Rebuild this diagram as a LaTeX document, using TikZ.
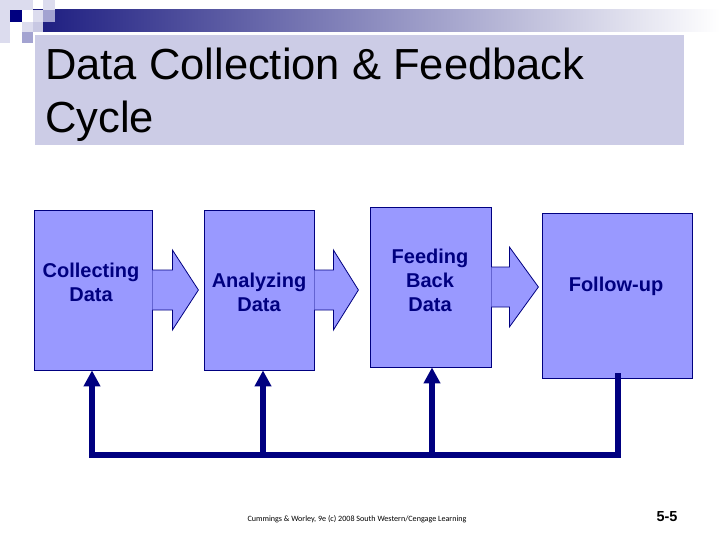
\documentclass[tikz,border=0pt]{standalone}
\usepackage{fontspec}
\setmainfont{Liberation Sans}
\newfontfamily\carlito{Carlito}
\usetikzlibrary{calc,arrows.meta}
\definecolor{boxfill}{HTML}{9999FF}
\definecolor{navyc}{HTML}{000080}
\definecolor{titlebg}{HTML}{CCCCE6}
\definecolor{sqlight}{HTML}{DCDCEE}
\definecolor{sqmed}{HTML}{A3A3D1}
\definecolor{barleft}{HTML}{1C1C80}
\tikzset{
  box/.style={draw=navyc, line width=0.8pt, fill=boxfill, inner sep=0pt},
  boxtext/.style={text=navyc, font=\bfseries\fontsize{20}{24}\selectfont, align=center},
  arrowfill/.style={fill=boxfill},
  arrowline/.style={draw=navyc, line width=0.8pt, line join=miter},
  fb/.style={draw=navyc, line width=6pt, line join=miter},
  fbtip/.style={-{Triangle[width=16pt,length=16pt]}},
}
\newcommand{\blkarrow}[3]{%
  \fill[arrowfill] ($(#1)+(0,-20)$) -- ++(#2,0) -- ++(0,-20) -- ++(#3,40) -- ++(-#3,40) -- ++(0,-20) -- ++(-#2,0) -- cycle;
  \draw[arrowline] ($(#1)+(0,-20)$) -- ++(#2,0) -- ++(0,-20) -- ++(#3,40) -- ++(-#3,40) -- ++(0,-20) -- ++(-#2,0);
}
\begin{document}
\begin{tikzpicture}[x=1pt,y=-1pt]
\useasboundingbox (0,0) rectangle (720,540);
\fill[white] (0,0) rectangle (720,540);
% top decoration
\shade[left color=barleft, right color=white] (33,10) rectangle (720,32);
\fill[sqlight] (0,0) rectangle (33,10);
\fill[sqlight] (0,10) rectangle (10,43);
\fill[sqlight] (43,0) rectangle (55,10);
\fill[sqlight] (33,10) rectangle (43,22);
\fill[sqmed] (43,10) rectangle (55,22);
\fill[sqlight] (22,22) rectangle (33,32);
\fill[sqmed!60!white] (33,22) rectangle (43,32);
\fill[sqmed] (22,32) rectangle (33,43);
\fill[navyc] (10,10) rectangle (22,22);
% title
\fill[titlebg] (35,35) rectangle (684,145);
\node[anchor=base west, inner sep=0pt, font=\fontsize{43.5}{48}\selectfont] (title1) at (45,80) {Data Collection \& Feedback};
\node[anchor=base west, inner sep=0pt, font=\fontsize{43.5}{48}\selectfont] (title2) at (45,133) {Cycle};
% boxes
\node[box, minimum width=118pt, minimum height=160pt] (b1) at (93,290) {};
\node[box, minimum width=110pt, minimum height=160pt] (b2) at (259,290) {};
\node[box, minimum width=121pt, minimum height=160pt] (b3) at (430.5,287) {};
\node[box, minimum width=150pt, minimum height=165pt] (b4) at (617,295.5) {};
\node[boxtext] (t1) at (91,282) {Collecting\\Data};
\node[boxtext] (t2) at (259,292) {Analyzing\\Data};
\node[boxtext] (t3) at (430,280) {Feeding\\Back\\Data};
\node[boxtext] (t4) at (616,286) {Follow-up};
% block arrows
\blkarrow{b1.east}{20}{26}
\blkarrow{b2.east}{19}{25}
\blkarrow{b3.east}{18}{29}
% feedback
\coordinate (f1) at (92,455);
\coordinate (f2) at (263,455);
\coordinate (f3) at (432,455);
\coordinate (f4) at (618,455);
\coordinate (e4) at (618,373);
\draw[fb, fbtip] (e4) -- (f4) -- (f1) -- (f1 |- b1.south);
\draw[fb, fbtip] (f2) -- (f2 |- b2.south);
\draw[fb, fbtip] (f3) -- (f3 |- b3.south);
% footer
\node[font=\carlito\fontsize{8.1}{10}\selectfont, inner sep=0pt] (foot) at (357,519) {Cummings \& Worley, 9e (c) 2008 South Western/Cengage Learning};
\node[font=\bfseries\fontsize{14.5}{16}\selectfont, inner sep=0pt] (pg) at (667,517) {5-5};
\end{tikzpicture}
\end{document}
